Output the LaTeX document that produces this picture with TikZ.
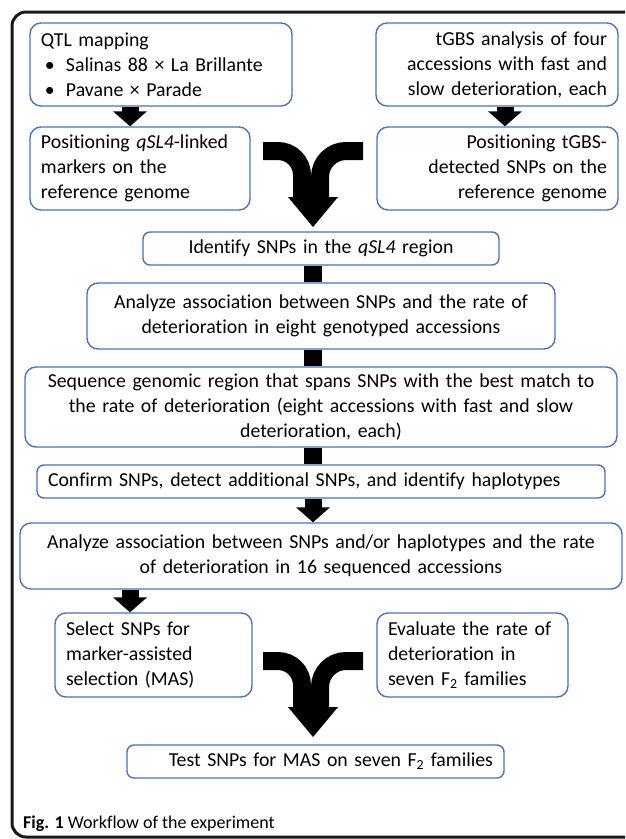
\documentclass[tikz,border=0pt]{standalone}
\usepackage{fontspec}
\setmainfont{Carlito}[Ligatures=NoCommon]
\usetikzlibrary{calc}

\definecolor{boxblue}{RGB}{68,114,196}

\tikzset{
	stagebox/.style={draw=boxblue, line width=1.4pt, rounded corners=11pt,
		inner xsep=11pt, inner ysep=2pt, font=\fontsize{19.8}{25}\selectfont},
	thinbox/.style={stagebox, rounded corners=7pt, minimum height=33pt},
	shaft/.style={line width=17pt},
	bar/.style={line width=18pt},
	band/.style={line width=18pt},
}

% block arrow: from box #1 down to box #2, in column #3
\newcommand{\blockarrow}[3]{%
	\draw[shaft] (#1.south -| #3) -- ($(#2.north -| #3)+(0,-14)$);
	\fill ($(#2.north -| #3)+(-17,-15)$) -- ++(34,0) -- (#2.north -| #3) -- cycle;}

\begin{document}
\begin{tikzpicture}[x=1pt,y=-1pt]

	\useasboundingbox (0,0) rectangle (625,839);
	\clip (0,0) rectangle (625,839);

	% frame
	\draw[line width=3pt, rounded corners=14pt, black!90] (12,12) rectangle (650,837);

	\coordinate (colL) at (130,0);
	\coordinate (colR) at (505,0);
	\coordinate (colC) at (313,0);

	% boxes
	\node[stagebox, text width=240pt, minimum height=83pt, align=left] (qtl) at (161,64.5)
		{QTL mapping\\
		\makebox[25pt][l]{\hspace*{4pt}•}Salinas 88 × La Brillante\\
		\makebox[25pt][l]{\hspace*{4pt}•}Pavane × Parade};

	\node[stagebox, text width=220pt, minimum height=83pt, align=right] (tgbs) at (497,64.5)
		{tGBS analysis of four\\accessions with fast and\\slow deterioration, each};

	\node[stagebox, text width=198pt, minimum height=83pt, align=left] (posq) at (140,168.5)
		{Positioning \textit{qSL4}-linked\\markers on the\\reference genome};

	\node[stagebox, text width=219pt, minimum height=83pt, align=right] (post) at (497.5,168.5)
		{Positioning tGBS-\\detected SNPs on the\\reference genome};

	\node[thinbox, text width=334pt, align=center] (ident) at (321,248.5)
		{Identify SNPs in the \textit{qSL4} region};

	\node[stagebox, text width=446pt, minimum height=66pt, align=center] (ana8) at (321,316)
		{Analyze association between SNPs and the rate of\\deterioration in eight genotyped accessions};

	\node[stagebox, text width=570pt, minimum height=80pt, align=center] (seq) at (321,407)
		{Sequence genomic region that spans SNPs with the best match to\\
		the rate of deterioration (eight accessions with fast and slow\\deterioration, each)};

	\node[thinbox, text width=546pt, align=left] (conf) at (321,481.5)
		{Confirm SNPs, detect additional SNPs, and identify haplotypes};

	\node[stagebox, text width=580pt, minimum height=66pt, align=center] (ana16) at (321,556)
		{Analyze association between SNPs and/or haplotypes and the rate\\
		of deterioration in 16 sequenced accessions};

	\node[stagebox, text width=175pt, minimum height=84pt, align=left] (sel) at (153.5,655)
		{Select SNPs for\\marker-assisted\\selection (MAS)};

	\node[stagebox, text width=169pt, minimum height=84pt, align=left] (eval) at (472.5,655)
		{Evaluate the rate of\\deterioration in\\seven F\textsubscript{2} families};

	\node[thinbox, text width=355pt, align=right] (test) at (315.5,761.5)
		{Test SNPs for MAS on seven F\textsubscript{2} families};

	% arrows
	\blockarrow{qtl}{posq}{colL}
	\blockarrow{tgbs}{post}{colR}
	\draw[bar] (ident.south -| colC) -- (ana8.north -| colC);
	\draw[bar] (ana8.south -| colC) -- (seq.north -| colC);
	\draw[bar] (seq.south -| colC) -- (conf.north -| colC);
	\blockarrow{conf}{ana16}{colC}
	\blockarrow{ana16}{sel}{colL}

	% merging arrows
	\foreach \dy in {0,510}{
		\begin{scope}[shift={(0,\dy)}]
			\draw[band, rounded corners=24pt] (263,151) -| (302,198);
			\draw[band, rounded corners=26pt] (363,151) -| (320,198);
			\fill (288,197) -- (338,197) -- (313,227) -- cycle;
		\end{scope}
	}

	\node[anchor=base west, inner sep=0pt, font=\fontsize{18}{22}\selectfont] (caption) at (23,828)
		{\textbf{Fig. 1} Workflow of the experiment};

\end{tikzpicture}
\end{document}
